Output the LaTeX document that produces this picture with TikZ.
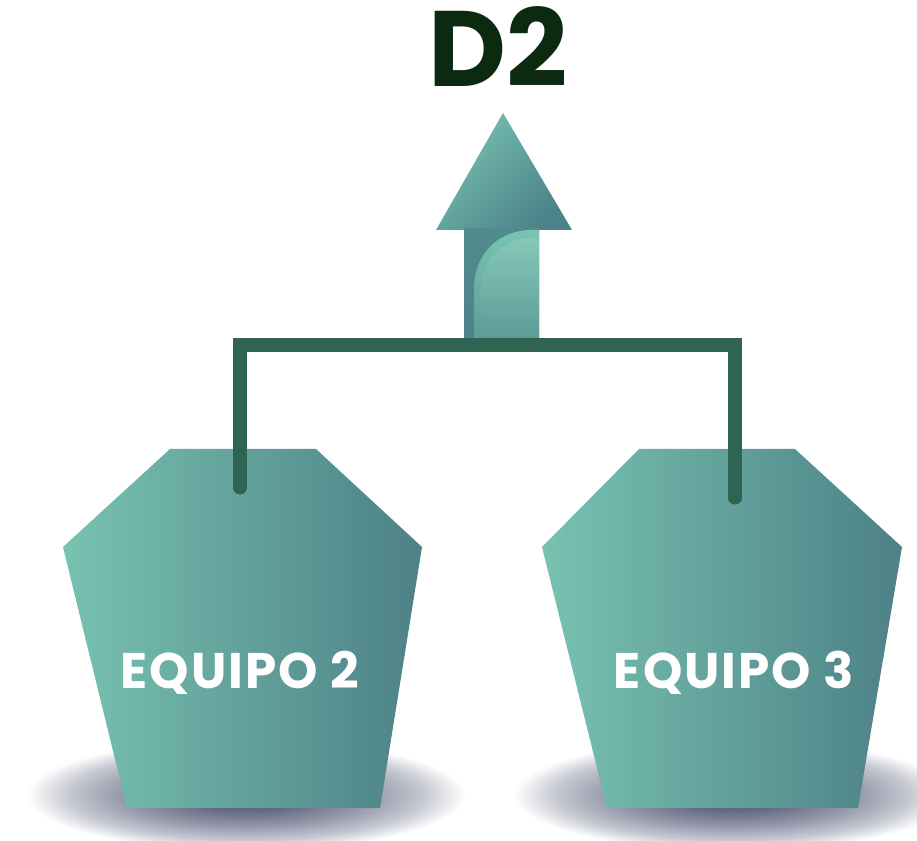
\documentclass[tikz,border=0pt]{standalone}
\usepackage{fontspec}
\setmainfont{Poppins}
\usepackage{tikz}
\usetikzlibrary{calc}
\definecolor{tealLight}{RGB}{120, 194, 177}
\definecolor{tealDark}{RGB}{77, 129, 134}
\definecolor{arrLight}{RGB}{118, 192, 176}
\definecolor{arrDark}{RGB}{76, 130, 137}
\definecolor{shineTop}{RGB}{120, 196, 178}
\definecolor{shineBot}{RGB}{92, 154, 150}
\definecolor{linkGreen}{RGB}{47, 100, 82}
\definecolor{titleGreen}{RGB}{11, 42, 16}
\definecolor{shadowBlue}{RGB}{62, 68, 100}

\pgfdeclareradialshading{floorshade}{\pgfpoint{0bp}{0bp}}{%
  color(0bp)=(shadowBlue); color(7bp)=(shadowBlue!80!white);
  color(14bp)=(shadowBlue!55!white); color(20bp)=(shadowBlue!30!white);
  color(23bp)=(shadowBlue!12!white);
  color(25bp)=(white); color(50bp)=(white)}

\tikzset{
  block/.style={left color=tealLight, right color=tealDark},
  blocklabel/.style={white, font=\bfseries\fontsize{28.5}{32}\selectfont\addfontfeatures{LetterSpace=4}, anchor=base, inner sep=0pt},
  link/.style={linkGreen, line width=7.5pt, line cap=round, line join=miter},
  floor/.style={shading=floorshade},
}

\begin{document}
\begin{tikzpicture}[x=0.02cm, y=-0.02cm]
\useasboundingbox (0,0) rectangle (917,841);

% Shadows
\shade[floor] (246,795) ellipse (220 and 56);
\shade[floor] (733,795) ellipse (220 and 56);

% Team 2
\shade[block] (170,449) -- (316,449) -- (422,547) -- (380,808) -- (127,808) -- (63,547) -- cycle;
\node[blocklabel] (equipo2) at (240,688) {EQUIPO 2};
\coordinate (pin2) at (240,488);

% Team 3
\shade[block] (639,449) -- (795,449) -- (902,547) -- (858,808) -- (607,808) -- (542,547) -- cycle;
\node[blocklabel] (equipo3) at (734,688) {EQUIPO 3};
\coordinate (pin3) at (735,498);

% Arrow
\shade[left color=arrLight, right color=arrDark, shading angle=45]
  (503,113) -- (572,230) -- (436,230) -- cycle;
\shade[top color=arrDark!85!arrLight, bottom color=arrDark]
  (464,229) rectangle (539,343);
\shade[top color=shineTop, bottom color=shineBot]
  (474,343) -- (474,290) .. controls (474,252) and (500,230) .. (532,230) -- (539,230) -- (539,343) -- cycle;
\shade[top color=shineTop!80!white, bottom color=shineBot, opacity=0.5]
  (481,343) -- (481,292) .. controls (481,258) and (503,238) .. (534,238) -- (539,238) -- (539,343) -- cycle;
\coordinate (join) at (501,345);

% Title
\node[titleGreen, font=\bfseries\fontsize{61}{66}\selectfont, anchor=base, inner sep=0pt] (title) at (498,87) {D2};

% Connector
\draw[link] (pin2) |- (join) -| (pin3);
\end{tikzpicture}
\end{document}
